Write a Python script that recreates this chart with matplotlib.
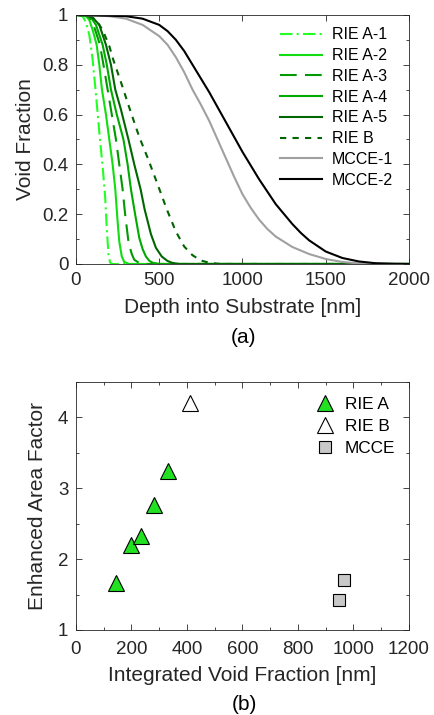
import matplotlib
matplotlib.use('Agg')
import matplotlib.pyplot as plt
from matplotlib.ticker import MultipleLocator

plt.rcParams['font.family'] = ['Liberation Sans', 'DejaVu Sans']

# (a) void fraction profiles, (depth nm, fraction)
rie_a1_x = [0, 40, 60, 80, 100, 120, 140, 160, 175, 185, 195, 205, 220, 2000]
rie_a1_y = [1, 0.995, 0.97, 0.92, 0.82, 0.68, 0.53, 0.39, 0.27, 0.14, 0.04, 0.005, 0, 0]
rie_a2_x = [0, 60, 80, 100, 124, 140, 156, 180, 200, 220, 236, 250, 260, 275, 290, 320, 2000]
rie_a2_y = [1, 0.995, 0.98, 0.94, 0.88, 0.8, 0.7, 0.6, 0.5, 0.4, 0.3, 0.17, 0.09, 0.03, 0.008, 0, 0]
rie_a3_x = [0, 60, 80, 100, 120, 144, 165, 190, 215, 240, 260, 280, 295, 316, 335, 350, 380, 420, 2000]
rie_a3_y = [1, 0.998, 0.99, 0.97, 0.93, 0.88, 0.8, 0.7, 0.6, 0.5, 0.4, 0.3, 0.2, 0.085, 0.04, 0.017, 0.004, 0, 0]
rie_a4_x = [0, 60, 90, 120, 160, 185, 210, 245, 285, 310, 330, 355, 380, 400, 420, 440, 460, 500, 2000]
rie_a4_y = [1, 0.998, 0.99, 0.96, 0.88, 0.8, 0.7, 0.6, 0.5, 0.4, 0.3, 0.2, 0.105, 0.06, 0.03, 0.013, 0.005, 0, 0]
rie_a5_x = [0, 60, 100, 140, 180, 210, 236, 270, 315, 350, 388, 412, 450, 480, 515, 550, 580, 620, 2000]
rie_a5_y = [1, 0.998, 0.99, 0.96, 0.88, 0.8, 0.7, 0.62, 0.5, 0.4, 0.3, 0.22, 0.12, 0.065, 0.03, 0.012, 0.004, 0, 0]
rie_b_x = [0, 80, 120, 160, 200, 224, 270, 324, 380, 434, 490, 545, 600, 650, 700, 750, 800, 850, 900, 2000]
rie_b_y = [1, 0.995, 0.98, 0.94, 0.875, 0.82, 0.73, 0.62, 0.51, 0.42, 0.32, 0.22, 0.13, 0.07, 0.035, 0.014, 0.005, 0.001, 0, 0]
mcce1_x = [0, 200, 300, 400, 500, 550, 600, 650, 700, 750, 800, 850, 900, 950, 1000, 1050,
           1100, 1150, 1200, 1300, 1400, 1500, 1600, 1700, 1800, 2000]
mcce1_y = [1, 0.995, 0.985, 0.96, 0.915, 0.88, 0.83, 0.77, 0.7, 0.64, 0.575, 0.5, 0.425, 0.35, 0.28, 0.225,
           0.178, 0.14, 0.11, 0.068, 0.04, 0.02, 0.008, 0.002, 0, 0]
mcce2_x = [0, 300, 400, 500, 550, 600, 650, 700, 750, 800, 850, 900, 950, 1000, 1050, 1100, 1150,
           1200, 1250, 1300, 1350, 1400, 1500, 1600, 1700, 1800, 1900, 2000]
mcce2_y = [1, 0.995, 0.985, 0.96, 0.935, 0.9, 0.855, 0.8, 0.745, 0.69, 0.63, 0.57, 0.51, 0.45, 0.395, 0.34, 0.29,
           0.24, 0.2, 0.16, 0.125, 0.095, 0.05, 0.024, 0.01, 0.003, 0.001, 0]

# (b) integrated void fraction vs enhanced area factor
rie_a_ivf = [145, 200, 235, 282, 330]
rie_a_eaf = [1.66, 2.2, 2.32, 2.76, 3.25]
rie_b_ivf = [412]
rie_b_eaf = [4.2]
mcce_ivf = [947, 966]
mcce_eaf = [1.42, 1.70]

TXT = '#262626'

fig = plt.figure(figsize=(4.35, 7.15), dpi=100)
axa = fig.add_axes([0.1747, 0.6308, 0.7655, 0.3483])
axb = fig.add_axes([0.1747, 0.1189, 0.7655, 0.3469])

lw = 1.5
axa.plot(rie_a1_x, rie_a1_y, color='#22ff22', lw=lw, ls=(0, (6, 2, 1, 2)), label='RIE A-1')
axa.plot(rie_a2_x, rie_a2_y, color='#11dd11', lw=lw, label='RIE A-2')
axa.plot(rie_a3_x, rie_a3_y, color='#009a00', lw=lw, ls=(0, (8, 4)), label='RIE A-3')
axa.plot(rie_a4_x, rie_a4_y, color='#00aa00', lw=lw, label='RIE A-4')
axa.plot(rie_a5_x, rie_a5_y, color='#006600', lw=lw, label='RIE A-5')
axa.plot(rie_b_x, rie_b_y, color='#006400', lw=lw, ls=(0, (3, 3)), label='RIE B')
axa.plot(mcce1_x, mcce1_y, color='#a0a0a0', lw=lw, label='MCCE-1')
axa.plot(mcce2_x, mcce2_y, color='black', lw=lw, label='MCCE-2')

axa.set_xlim(0, 2000)
axa.set_ylim(0, 1)
axa.set_xticks([0, 500, 1000, 1500, 2000])
axa.set_yticks([0, 0.2, 0.4, 0.6, 0.8, 1])
axa.set_yticklabels(['0', '0.2', '0.4', '0.6', '0.8', '1'])
axa.yaxis.set_minor_locator(MultipleLocator(0.1))
axa.set_xlabel('Depth into Substrate [nm]', fontsize=15, color=TXT)
axa.set_ylabel('Void Fraction', fontsize=15, color=TXT)
axa.xaxis.set_label_coords(0.5, -0.1767)
axa.yaxis.set_label_coords(-0.153, 0.5)
axa.legend(loc='upper left', frameon=False, fontsize=11.5, handlelength=2.63,
           labelspacing=0.36, bbox_to_anchor=(0.613, 0.95), handletextpad=0.63,
           borderpad=0, borderaxespad=0)

ms_tri = 11
axb.plot(rie_a_ivf, rie_a_eaf, ls='none', marker='^', ms=ms_tri, mfc='#22e022',
         mec='black', mew=0.8, label='RIE A')
axb.plot(rie_b_ivf, rie_b_eaf, ls='none', marker='^', ms=ms_tri, mfc='white',
         mec='black', mew=0.8, label='RIE B')
axb.plot(mcce_ivf, mcce_eaf, ls='none', marker='s', ms=8, mfc='#c8c8c8',
         mec='black', mew=0.8, label='MCCE')
axb.set_xlim(0, 1200)
axb.set_ylim(1, 4.5)
axb.set_xticks(range(0, 1201, 200))
axb.set_yticks([1, 2, 3, 4])
axb.xaxis.set_minor_locator(MultipleLocator(100))
axb.yaxis.set_minor_locator(MultipleLocator(0.5))
axb.set_xlabel('Integrated Void Fraction [nm]', fontsize=15, color=TXT)
axb.set_ylabel('Enhanced Area Factor', fontsize=15, color=TXT)
axb.xaxis.set_label_coords(0.5, -0.1815)
axb.yaxis.set_label_coords(-0.117, 0.5)
axb.legend(loc='upper left', frameon=False, fontsize=12.4, handlelength=1.0,
           labelspacing=0.4, bbox_to_anchor=(0.722, 0.939), handletextpad=0.66,
           borderpad=0, borderaxespad=0)

for ax in (axa, axb):
    ax.xaxis.label.set_verticalalignment('center')
    ax.yaxis.label.set_verticalalignment('center')
    ax.tick_params(which='both', direction='in', top=True, right=True,
                   labelsize=13.5, colors=TXT, width=0.6)
    ax.tick_params(which='major', length=4)
    ax.tick_params(which='minor', length=2.5)
    ax.tick_params(axis='y', pad=5.5)
    for s in ax.spines.values():
        s.set_color(TXT)
        s.set_linewidth(0.6)
axa.tick_params(axis='x', pad=6)
axb.tick_params(axis='x', pad=8)

fig.text(244 / 435, 1 - 338 / 715, '(a)', ha='center', va='center', fontsize=15)
fig.text(244 / 435, 1 - 704 / 715, '(b)', ha='center', va='center', fontsize=15)

fig.savefig('out.png', dpi=100)
